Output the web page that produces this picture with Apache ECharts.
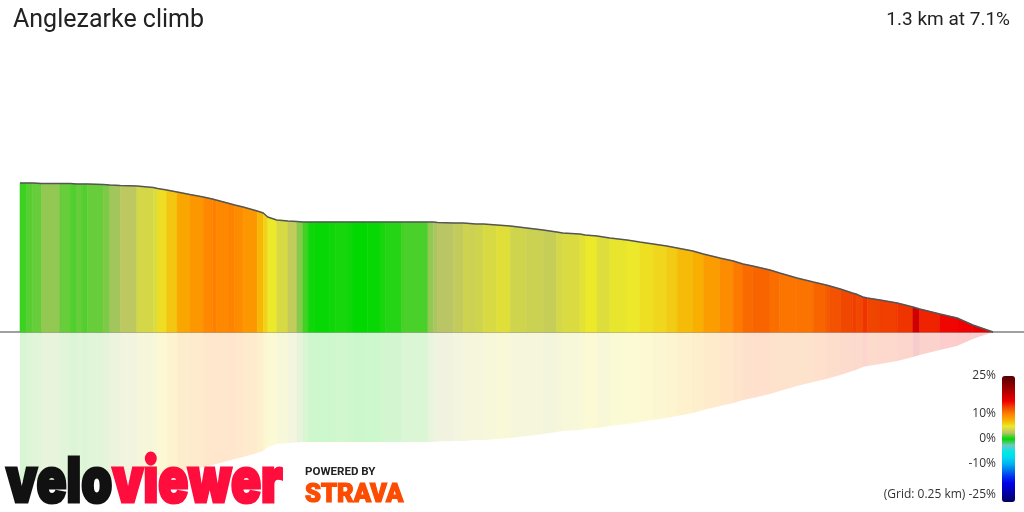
<!DOCTYPE html>
<html><head><meta charset="utf-8">
<script src="https://cdn.jsdelivr.net/npm/echarts@6/dist/echarts.min.js"></script>
<style>html,body{margin:0;padding:0;background:#fff}#c{width:1024px;height:512px}</style>
</head><body><div id="c"></div>
<script>
const TITLE = 'Anglezarke climb';
const SUMMARY = '1.3 km at 7.1%';
const GRID_NOTE = '(Grid: 0.25 km)';

// slice boundaries along the climb (metres)
const distance = [0, 9, 17, 29, 53, 67, 76, 83, 90, 111, 120, 134, 156, 178, 184, 196, 210, 227, 245, 257,
  262, 277, 287, 298, 317, 325, 331, 343, 358, 370, 378, 385, 394, 414, 421, 437, 445, 464, 481, 488,
  510, 545, 552, 558, 579, 592, 601, 609, 619, 637, 655, 677, 699, 717, 725, 748, 755, 771, 788, 811,
  828, 846, 864, 878, 899, 913, 935, 953, 966, 979, 1002, 1015, 1038, 1060, 1077, 1082, 1096, 1112, 1117, 1126,
  1132, 1149, 1172, 1193, 1202, 1229, 1252, 1273, 1300];

// projected profile height at each boundary
const profileHeight = [149, 149, 149, 148.5, 148.5, 148.5, 148, 148, 148, 147.5, 147, 146.5, 146, 144.5, 143.5, 142, 140, 137.5, 135, 133,
  132, 129, 127, 125, 121, 119, 115, 112, 111, 110.5, 110, 110, 110, 110, 110, 110, 110, 110, 110, 110,
  110, 110, 110, 109.5, 109, 109, 108.5, 108, 108, 107, 106, 104, 102, 100, 99, 98, 97, 96, 94, 92,
  90, 88, 86, 84, 81, 78, 74, 71, 68, 66, 62, 59, 54, 50, 47, 46, 43, 39, 38, 35,
  34, 32, 29, 25, 23, 18, 14, 7, 0];

// gradient (%) of each slice
const gradient = [0.8, 1.2, 1.4, 2.0, 1.4, 1.1, 1.4, 1.1, 1.4, 1.7, 2.2, 2.8, 3.8, 4.2, 5.5, 6.5, 8.0, 8.8, 9.6, 10.0,
  9.6, 9.8, 9.4, 8.8, 7.2, 6.0, 5.0, 4.0, 3.0, 1.8, 0.9, 0.2, 0.1, 0.2, 0.3, 0.2, 0.0, 0.1, 0.3, 0.5,
  1.0, 2.0, 2.3, 2.6, 3.0, 3.5, 3.4, 3.6, 4.0, 4.4, 3.6, 3.4, 3.2, 3.8, 4.1, 4.5, 5.0, 4.3, 4.8, 5.0,
  5.4, 5.8, 6.3, 7.0, 7.5, 8.5, 9.3, 10.3, 11.0, 11.2, 10.8, 10.5, 10.6, 11.2, 11.8, 12.0, 12.5, 12.8, 12.5, 13.2,
  12.6, 12.8, 13.2, 17.0, 13.8, 14.8, 15.0, 15.5];

const legendTicks = [25, 10, 0, -10, -25];
const gradientMin = -25, gradientMax = 25;

const gradientColors = ['#000060', '#000090', '#0000c0', '#0000e8', '#0030f0', '#0070f0', '#00b0f0', '#00d8f0',
  '#00e8e8', '#70c8c0', '#00d800', '#b8c468', '#ece82a', '#f8b000', '#ff8000', '#f04800', '#f00000',
  '#c80000', '#a00000', '#780000', '#580000'];

const slices = gradient.map((g, i) => [distance[i], distance[i + 1], profileHeight[i], profileHeight[i + 1], g]);
const outline = distance.map((d, i) => [d, profileHeight[i]]);

const mPerPx = 1300 / 973;

function sliceRenderer(sign, opacity, stroke) {
  return function (params, api) {
    const x0 = api.value(0), x1 = api.value(1), h0 = api.value(2), h1 = api.value(3);
    const pts = [api.coord([x0, 0]), api.coord([x0, sign * h0]), api.coord([x1, sign * h1]), api.coord([x1, 0])];
    const c = api.visual('color');
    return {
      type: 'polygon',
      shape: { points: pts },
      style: { fill: c, stroke: stroke ? c : null, lineWidth: stroke ? 0.6 : 0, opacity: opacity }
    };
  };
}

// legend label axis: 2.5 px per %, padded range so the end labels are not edge-aligned
const chart = echarts.init(document.getElementById('c'), null, { renderer: 'canvas' });
chart.setOption({
  animation: false,
  backgroundColor: '#fff',
  title: [
    { text: TITLE, left: 8, top: 3, textStyle: { fontFamily: 'Roboto', fontSize: 25, fontWeight: 'normal', color: '#222' } },
    { text: SUMMARY, right: 9, top: 6, textStyle: { fontFamily: 'Roboto', fontSize: 19, fontWeight: 'normal', color: '#222' } }
  ],
  grid: [
    { left: 0, right: 0, top: 0, bottom: 0 },
    { left: 1002, top: 366, width: 13, height: 145 }
  ],
  xAxis: [
    { type: 'value', gridIndex: 0, min: -20 * mPerPx, max: 1300 + 31 * mPerPx,
      axisLine: { show: true, onZero: true, lineStyle: { color: '#a0a0a0', width: 2 } },
      axisTick: { show: false }, axisLabel: { show: false }, splitLine: { show: false } },
    { type: 'value', gridIndex: 1, show: false }
  ],
  yAxis: [
    { type: 'value', gridIndex: 0, min: -180, max: 332, show: false },
    { type: 'value', gridIndex: 1, min: gradientMin - 4, max: gradientMax + 4, position: 'left',
      axisLine: { show: false }, axisTick: { show: false }, splitLine: { show: false },
      axisLabel: { customValues: legendTicks, margin: 6, fontFamily: 'Open Sans', fontSize: 12, color: '#333',
        rich: { low: { fontFamily: 'Open Sans', fontSize: 12, color: '#333', padding: [0, 0, 12, 0] } },
        formatter: v => (v === gradientMin ? '{low|' + GRID_NOTE + ' ' + v + '%}' : v + '%') } }
  ],
  visualMap: {
    type: 'continuous', min: gradientMin, max: gradientMax, dimension: 4, seriesIndex: [0, 1],
    orient: 'vertical', left: 1002, top: 376, itemWidth: 13, itemHeight: 126, padding: 0,
    calculable: false, hoverLink: false, text: null, showLabel: false,
    inRange: { color: gradientColors }
  },
  series: [
    { type: 'custom', name: 'reflection', xAxisIndex: 0, yAxisIndex: 0, data: slices, silent: true,
      renderItem: sliceRenderer(-1, 0.2, false), z: 1 },
    { type: 'custom', name: 'profile', xAxisIndex: 0, yAxisIndex: 0, data: slices, silent: true,
      renderItem: sliceRenderer(1, 1, true), z: 2 },
    { type: 'line', name: 'outline', xAxisIndex: 0, yAxisIndex: 0, data: outline, symbol: 'none', silent: true,
      lineStyle: { color: '#555', width: 1.5 }, z: 3 }
  ],
  graphic: [
    { type: 'text', x: 6, y: 452, scaleX: 0.8, scaleY: 1, z: 10,
      style: { text: '{a|velo}{b|viewer}', font: '900 62px Inter',
        rich: { a: { fill: '#111', stroke: '#111', lineWidth: 3, font: '900 62px Inter' },
                b: { fill: '#ff0d3d', stroke: '#ff0d3d', lineWidth: 3, font: '900 62px Inter' } } } },
    { type: 'text', x: 305, y: 467, scaleX: 1.1, z: 10,
      style: { text: 'POWERED BY', font: 'bold 10.5px Roboto', fill: '#222' } },
    { type: 'text', x: 305, y: 483, scaleX: 1.02, z: 10,
      style: { text: 'STRAVA', font: '900 25px Roboto', fill: '#fc4c02', stroke: '#fc4c02', lineWidth: 1.2 } }
  ]
});
</script></body></html>
